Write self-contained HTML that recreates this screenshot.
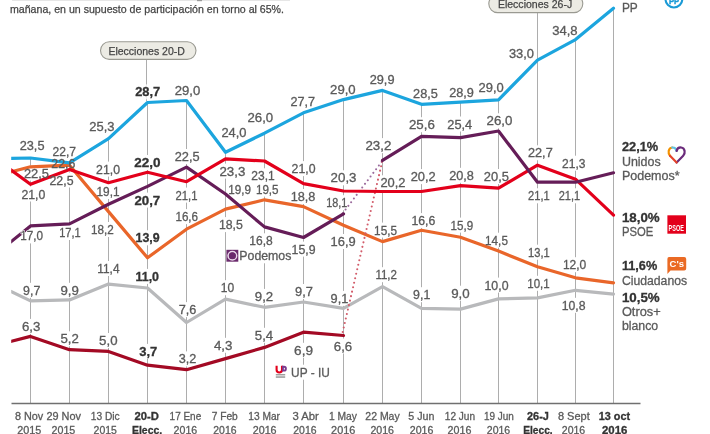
<!DOCTYPE html><html><head><meta charset="utf-8"><style>html,body{margin:0;padding:0;background:#fff;width:710px;height:434px;overflow:hidden}svg{display:block;will-change:transform}text{font-family:"Liberation Sans",sans-serif}</style></head><body>
<svg width="710" height="434" viewBox="0 0 710 434">
<rect width="710" height="434" fill="#fff"/>
<g>
<rect x="12" y="0" width="278" height="1" fill="#e6e6e6"/><rect x="197" y="0" width="5" height="1.2" fill="#9a9a9a"/>
<text x="10" y="12.7" font-size="11" fill="#444" stroke="#444" stroke-width="0.25" textLength="274" lengthAdjust="spacingAndGlyphs">mañana, en un supuesto de participación en torno al 65%.</text>
<line x1="30.5" y1="157" x2="30.5" y2="403" stroke="#adadad" stroke-width="1"/>
<line x1="69.5" y1="162" x2="69.5" y2="403" stroke="#adadad" stroke-width="1"/>
<line x1="108.5" y1="138" x2="108.5" y2="403" stroke="#adadad" stroke-width="1"/>
<line x1="146.5" y1="59.5" x2="146.5" y2="101" stroke="#adadad" stroke-width="1"/>
<line x1="147.5" y1="101" x2="147.5" y2="403" stroke="#adadad" stroke-width="1"/>
<line x1="186.5" y1="99.5" x2="186.5" y2="403" stroke="#adadad" stroke-width="1"/>
<line x1="225.5" y1="150.5" x2="225.5" y2="403" stroke="#adadad" stroke-width="1"/>
<line x1="264.5" y1="132" x2="264.5" y2="403" stroke="#adadad" stroke-width="1"/>
<line x1="303.5" y1="112" x2="303.5" y2="403" stroke="#adadad" stroke-width="1"/>
<line x1="343.5" y1="98.6" x2="343.5" y2="403" stroke="#adadad" stroke-width="1"/>
<line x1="382.5" y1="89.4" x2="382.5" y2="403" stroke="#adadad" stroke-width="1"/>
<line x1="421.5" y1="103" x2="421.5" y2="403" stroke="#adadad" stroke-width="1"/>
<line x1="460.5" y1="101" x2="460.5" y2="403" stroke="#adadad" stroke-width="1"/>
<line x1="498.5" y1="98.8" x2="498.5" y2="403" stroke="#adadad" stroke-width="1"/>
<line x1="537.5" y1="12.7" x2="537.5" y2="403" stroke="#adadad" stroke-width="1"/>
<line x1="575.5" y1="38.6" x2="575.5" y2="403" stroke="#adadad" stroke-width="1"/>
<line x1="613.5" y1="8" x2="613.5" y2="403" stroke="#adadad" stroke-width="1"/>
<line x1="11.5" y1="403.6" x2="640.5" y2="403.6" stroke="#707070" stroke-width="1.5"/>
<rect x="100.5" y="41.8" width="95.5" height="17.6" rx="8.8" fill="#ecebe4" stroke="#9a9a92" stroke-width="1.1"/>
<text x="108.4" y="54.9" font-size="11.5" fill="#444" stroke="#444" stroke-width="0.25" textLength="76.5" lengthAdjust="spacingAndGlyphs">Elecciones 20-D</text>
<rect x="488.8" y="-5" width="94" height="17.6" rx="8.8" fill="#ecebe4" stroke="#9a9a92" stroke-width="1.1"/>
<text x="497.9" y="7.6" font-size="11.5" fill="#444" stroke="#444" stroke-width="0.25" textLength="74.3" lengthAdjust="spacingAndGlyphs">Elecciones 26-J</text>
<rect x="29.2" y="138" width="2.6" height="15" fill="#fff"/>
<rect x="68.2" y="144" width="2.6" height="15" fill="#fff"/>
<rect x="68.2" y="156.4" width="2.6" height="15" fill="#fff"/>
<rect x="29.2" y="165.6" width="2.6" height="15" fill="#fff"/>
<rect x="68.2" y="172.5" width="2.6" height="15" fill="#fff"/>
<rect x="29.2" y="186.5" width="2.6" height="15" fill="#fff"/>
<rect x="29.2" y="228.4" width="2.6" height="15" fill="#fff"/>
<rect x="68.2" y="225" width="2.6" height="15" fill="#fff"/>
<rect x="107.2" y="119" width="2.6" height="15" fill="#fff"/>
<rect x="107.2" y="161.6" width="2.6" height="15" fill="#fff"/>
<rect x="107.2" y="184" width="2.6" height="15" fill="#fff"/>
<rect x="107.2" y="222" width="2.6" height="15" fill="#fff"/>
<rect x="107.2" y="261" width="2.6" height="15" fill="#fff"/>
<rect x="29.2" y="282.8" width="2.6" height="15" fill="#fff"/>
<rect x="68.2" y="282.8" width="2.6" height="15" fill="#fff"/>
<rect x="29.2" y="318.9" width="2.6" height="15" fill="#fff"/>
<rect x="68.2" y="331.3" width="2.6" height="15" fill="#fff"/>
<rect x="107.2" y="333" width="2.6" height="15" fill="#fff"/>
<rect x="146.2" y="84.4" width="2.6" height="15" fill="#fff"/>
<rect x="185.2" y="82.9" width="2.6" height="15" fill="#fff"/>
<rect x="146.2" y="155" width="2.6" height="15" fill="#fff"/>
<rect x="185.2" y="149" width="2.6" height="15" fill="#fff"/>
<rect x="185.2" y="187.6" width="2.6" height="15" fill="#fff"/>
<rect x="146.2" y="192.6" width="2.6" height="15" fill="#fff"/>
<rect x="146.2" y="230.3" width="2.6" height="15" fill="#fff"/>
<rect x="185.2" y="209.1" width="2.6" height="15" fill="#fff"/>
<rect x="146.2" y="268.9" width="2.6" height="15" fill="#fff"/>
<rect x="185.2" y="302.1" width="2.6" height="15" fill="#fff"/>
<rect x="146.2" y="343.9" width="2.6" height="15" fill="#fff"/>
<rect x="185.2" y="351.4" width="2.6" height="15" fill="#fff"/>
<rect x="224.2" y="125.2" width="2.6" height="15" fill="#fff"/>
<rect x="263.2" y="110.2" width="2.6" height="15" fill="#fff"/>
<rect x="302.2" y="93.6" width="2.6" height="15" fill="#fff"/>
<rect x="224.2" y="163.6" width="2.6" height="15" fill="#fff"/>
<rect x="263.2" y="168.3" width="2.6" height="15" fill="#fff"/>
<rect x="302.2" y="161.1" width="2.6" height="15" fill="#fff"/>
<rect x="263.2" y="181.6" width="2.6" height="15" fill="#fff"/>
<rect x="302.2" y="189" width="2.6" height="15" fill="#fff"/>
<rect x="224.2" y="217.1" width="2.6" height="15" fill="#fff"/>
<rect x="263.2" y="233.3" width="2.6" height="15" fill="#fff"/>
<rect x="302.2" y="241.6" width="2.6" height="15" fill="#fff"/>
<rect x="224.2" y="280.2" width="2.6" height="15" fill="#fff"/>
<rect x="263.2" y="288.9" width="2.6" height="15" fill="#fff"/>
<rect x="302.2" y="284" width="2.6" height="15" fill="#fff"/>
<rect x="224.2" y="337.8" width="2.6" height="15" fill="#fff"/>
<rect x="263.2" y="327.8" width="2.6" height="15" fill="#fff"/>
<rect x="302.2" y="342.8" width="2.6" height="15" fill="#fff"/>
<rect x="342.2" y="81.6" width="2.6" height="15" fill="#fff"/>
<rect x="381.2" y="72.4" width="2.6" height="15" fill="#fff"/>
<rect x="381.2" y="138.1" width="2.6" height="15" fill="#fff"/>
<rect x="342.2" y="170.3" width="2.6" height="15" fill="#fff"/>
<rect x="381.2" y="175.3" width="2.6" height="15" fill="#fff"/>
<rect x="342.2" y="195.2" width="2.6" height="15" fill="#fff"/>
<rect x="342.2" y="234" width="2.6" height="15" fill="#fff"/>
<rect x="381.2" y="222.6" width="2.6" height="15" fill="#fff"/>
<rect x="342.2" y="290.9" width="2.6" height="15" fill="#fff"/>
<rect x="381.2" y="267.2" width="2.6" height="15" fill="#fff"/>
<rect x="342.2" y="338.5" width="2.6" height="15" fill="#fff"/>
<rect x="420.2" y="85.6" width="2.6" height="15" fill="#fff"/>
<rect x="459.2" y="84.8" width="2.6" height="15" fill="#fff"/>
<rect x="497.2" y="79.8" width="2.6" height="15" fill="#fff"/>
<rect x="420.2" y="117.2" width="2.6" height="15" fill="#fff"/>
<rect x="459.2" y="116.5" width="2.6" height="15" fill="#fff"/>
<rect x="497.2" y="113.3" width="2.6" height="15" fill="#fff"/>
<rect x="420.2" y="169.1" width="2.6" height="15" fill="#fff"/>
<rect x="459.2" y="167.8" width="2.6" height="15" fill="#fff"/>
<rect x="497.2" y="169" width="2.6" height="15" fill="#fff"/>
<rect x="420.2" y="213.1" width="2.6" height="15" fill="#fff"/>
<rect x="459.2" y="217.6" width="2.6" height="15" fill="#fff"/>
<rect x="497.2" y="232.7" width="2.6" height="15" fill="#fff"/>
<rect x="420.2" y="287.2" width="2.6" height="15" fill="#fff"/>
<rect x="459.2" y="285.7" width="2.6" height="15" fill="#fff"/>
<rect x="497.2" y="277.6" width="2.6" height="15" fill="#fff"/>
<rect x="574.2" y="23.3" width="2.6" height="15" fill="#fff"/>
<rect x="536.2" y="145.3" width="2.6" height="15" fill="#fff"/>
<rect x="574.2" y="155.7" width="2.6" height="15" fill="#fff"/>
<rect x="536.2" y="188.3" width="2.6" height="15" fill="#fff"/>
<rect x="574.2" y="188.3" width="2.6" height="15" fill="#fff"/>
<rect x="536.2" y="244.7" width="2.6" height="15" fill="#fff"/>
<rect x="574.2" y="257.2" width="2.6" height="15" fill="#fff"/>
<rect x="536.2" y="275.8" width="2.6" height="15" fill="#fff"/>
<rect x="574.2" y="297.8" width="2.6" height="15" fill="#fff"/>
<rect x="263.2" y="248.3" width="2.6" height="15" fill="#fff"/>
<rect x="302.2" y="364.7" width="2.6" height="15" fill="#fff"/>
<defs><clipPath id="cl"><rect x="11.2" y="0" width="700" height="434"/></clipPath></defs>
<g clip-path="url(#cl)">
<polyline points="8,290.01 11.5,291.7 30.5,300.9 69.5,299.9 108.5,284.1 147.5,288 186.5,322.5 225.5,299.1 264.5,307.3 303.5,302 343.5,308.3 382.5,286.7 421.5,308.3 460.5,309.1 498.5,298.9 537.5,297.9 575.5,290.3 613.5,294.2" fill="none" stroke="#b8b9bb" stroke-width="3.2" stroke-linejoin="round" stroke-linecap="round" />
<polyline points="8,342.08 11.5,341.2 30.5,336.4 69.5,349.7 108.5,351.4 147.5,365.2 186.5,369.7 225.5,358.6 264.5,347.4 303.5,332.2 343.5,335.5" fill="none" stroke="#a30a24" stroke-width="3.2" stroke-linejoin="round" stroke-linecap="round" />
<polyline points="8,172.72 11.5,171.8 30.5,166.8 69.5,165.2 108.5,211.6 147.5,257.8 186.5,229.2 225.5,209.1 264.5,199.8 303.5,206.6 343.5,225.2 382.5,241.6 421.5,230.3 460.5,237.3 498.5,251.1 537.5,266.8 575.5,277.8 613.5,282.9" fill="none" stroke="#e9662a" stroke-width="3.2" stroke-linejoin="round" stroke-linecap="round" />
<line x1="342.8" y1="213.2" x2="382.3" y2="161" stroke="#9b6b9d" stroke-width="2.1" stroke-linecap="round" stroke-dasharray="0 4.6"/>
<line x1="342.7" y1="332" x2="382.3" y2="161" stroke="#d25c6a" stroke-width="2.1" stroke-linecap="round" stroke-dasharray="0 4.6"/>
<polyline points="8,158.47 11.5,158.4 30.5,158 69.5,162.9 108.5,138.7 147.5,102.5 186.5,100.5 225.5,152.3 264.5,133.2 303.5,112.8 343.5,99.6 382.5,90.4 421.5,104.3 460.5,102.1 498.5,99.8 537.5,60.2 575.5,39.6 613.5,8.2" fill="none" stroke="#1ca5de" stroke-width="3.2" stroke-linejoin="round" stroke-linecap="round" />
<polyline points="8,244.14 11.5,241.3 30.5,225.9 69.5,223.9 108.5,204.3 147.5,186.4 186.5,167.1 225.5,194 264.5,226.9 303.5,237.5 343.5,213.9" fill="none" stroke="#651d58" stroke-width="3.2" stroke-linejoin="round" stroke-linecap="round" />
<polyline points="8,167.84 11.5,170.4 30.5,184.3 69.5,169.4 108.5,182.7 147.5,172.2 186.5,181.7 225.5,158.9 264.5,161 303.5,183.6 343.5,191 382.5,191.5 421.5,191.5 460.5,185.6 498.5,188.2 537.5,165.2 575.5,179.2 613.5,215.1" fill="none" stroke="#e3001b" stroke-width="3.2" stroke-linejoin="round" stroke-linecap="round" />
<polyline points="382.5,160.4 421.5,136.4 460.5,137.7 498.5,131 537.5,182.2 575.5,182.2 613.5,172.8" fill="none" stroke="#651d58" stroke-width="3.2" stroke-linejoin="round" stroke-linecap="round" />
</g>
<text x="19.7" y="150" font-size="12" textLength="24.8" lengthAdjust="spacingAndGlyphs" fill="#5a5a5a" stroke="#5a5a5a" stroke-width="0.3">23,5</text>
<text x="52.5" y="156" font-size="12" textLength="23.5" lengthAdjust="spacingAndGlyphs" fill="#5a5a5a" stroke="#5a5a5a" stroke-width="0.3">22,7</text>
<text x="51.3" y="168.4" font-size="12" textLength="24.1" lengthAdjust="spacingAndGlyphs" fill="#5a5a5a" stroke="#5a5a5a" stroke-width="0.3">22,6</text>
<text x="23.9" y="177.6" font-size="12" textLength="25.1" lengthAdjust="spacingAndGlyphs" fill="#5a5a5a" stroke="#5a5a5a" stroke-width="0.3">22,5</text>
<text x="49.5" y="184.5" font-size="12" textLength="24" lengthAdjust="spacingAndGlyphs" fill="#5a5a5a" stroke="#5a5a5a" stroke-width="0.3">22,5</text>
<text x="21.4" y="198.5" font-size="12" textLength="23.9" lengthAdjust="spacingAndGlyphs" fill="#5a5a5a" stroke="#5a5a5a" stroke-width="0.3">21,0</text>
<text x="20.2" y="240.4" font-size="12" textLength="22.8" lengthAdjust="spacingAndGlyphs" fill="#fff" stroke="#fff" stroke-width="1.6" stroke-linejoin="round">17,0</text><text x="20.2" y="240.4" font-size="12" textLength="22.8" lengthAdjust="spacingAndGlyphs" fill="#5a5a5a" stroke="#5a5a5a" stroke-width="0.3">17,0</text>
<text x="59.2" y="237" font-size="12" textLength="21.5" lengthAdjust="spacingAndGlyphs" fill="#5a5a5a" stroke="#5a5a5a" stroke-width="0.3">17,1</text>
<text x="89.3" y="131" font-size="12" textLength="25.2" lengthAdjust="spacingAndGlyphs" fill="#5a5a5a" stroke="#5a5a5a" stroke-width="0.3">25,3</text>
<text x="96.1" y="173.6" font-size="12" textLength="23.9" lengthAdjust="spacingAndGlyphs" fill="#5a5a5a" stroke="#5a5a5a" stroke-width="0.3">21,0</text>
<text x="96.5" y="196" font-size="12" textLength="23" lengthAdjust="spacingAndGlyphs" fill="#5a5a5a" stroke="#5a5a5a" stroke-width="0.3">19,1</text>
<text x="91.1" y="234" font-size="12" textLength="22.7" lengthAdjust="spacingAndGlyphs" fill="#5a5a5a" stroke="#5a5a5a" stroke-width="0.3">18,2</text>
<text x="97.3" y="273" font-size="12" textLength="22.2" lengthAdjust="spacingAndGlyphs" fill="#5a5a5a" stroke="#5a5a5a" stroke-width="0.3">11,4</text>
<text x="23.1" y="294.8" font-size="12" textLength="17.2" lengthAdjust="spacingAndGlyphs" fill="#5a5a5a" stroke="#5a5a5a" stroke-width="0.3">9,7</text>
<text x="60.5" y="294.8" font-size="12" textLength="18.4" lengthAdjust="spacingAndGlyphs" fill="#5a5a5a" stroke="#5a5a5a" stroke-width="0.3">9,9</text>
<text x="21.9" y="330.9" font-size="12" textLength="18.4" lengthAdjust="spacingAndGlyphs" fill="#5a5a5a" stroke="#5a5a5a" stroke-width="0.3">6,3</text>
<text x="60.5" y="343.3" font-size="12" textLength="18.4" lengthAdjust="spacingAndGlyphs" fill="#5a5a5a" stroke="#5a5a5a" stroke-width="0.3">5,2</text>
<text x="99.1" y="345" font-size="12" textLength="18.4" lengthAdjust="spacingAndGlyphs" fill="#5a5a5a" stroke="#5a5a5a" stroke-width="0.3">5,0</text>
<text x="135.2" y="96.4" font-size="12" font-weight="bold" textLength="25" lengthAdjust="spacingAndGlyphs" fill="#333" stroke="#333" stroke-width="0.3">28,7</text>
<text x="174.7" y="94.9" font-size="12" textLength="25.5" lengthAdjust="spacingAndGlyphs" fill="#5a5a5a" stroke="#5a5a5a" stroke-width="0.3">29,0</text>
<text x="134.3" y="167" font-size="12" font-weight="bold" textLength="26.2" lengthAdjust="spacingAndGlyphs" fill="#333" stroke="#333" stroke-width="0.3">22,0</text>
<text x="174.7" y="161" font-size="12" textLength="24.9" lengthAdjust="spacingAndGlyphs" fill="#5a5a5a" stroke="#5a5a5a" stroke-width="0.3">22,5</text>
<text x="175.5" y="199.6" font-size="12" textLength="22" lengthAdjust="spacingAndGlyphs" fill="#5a5a5a" stroke="#5a5a5a" stroke-width="0.3">21,1</text>
<text x="134.4" y="204.6" font-size="12" font-weight="bold" textLength="25.8" lengthAdjust="spacingAndGlyphs" fill="#333" stroke="#333" stroke-width="0.3">20,7</text>
<text x="135.6" y="242.3" font-size="12" font-weight="bold" textLength="24.1" lengthAdjust="spacingAndGlyphs" fill="#333" stroke="#333" stroke-width="0.3">13,9</text>
<text x="175.4" y="221.1" font-size="12" textLength="22.7" lengthAdjust="spacingAndGlyphs" fill="#5a5a5a" stroke="#5a5a5a" stroke-width="0.3">16,6</text>
<text x="135.5" y="280.9" font-size="12" font-weight="bold" textLength="23.5" lengthAdjust="spacingAndGlyphs" fill="#333" stroke="#333" stroke-width="0.3">11,0</text>
<text x="178.7" y="314.1" font-size="12" textLength="17.6" lengthAdjust="spacingAndGlyphs" fill="#5a5a5a" stroke="#5a5a5a" stroke-width="0.3">7,6</text>
<text x="139.3" y="355.9" font-size="12" font-weight="bold" textLength="18" lengthAdjust="spacingAndGlyphs" fill="#333" stroke="#333" stroke-width="0.3">3,7</text>
<text x="178.7" y="363.4" font-size="12" textLength="17.6" lengthAdjust="spacingAndGlyphs" fill="#5a5a5a" stroke="#5a5a5a" stroke-width="0.3">3,2</text>
<text x="221.4" y="137.2" font-size="12" textLength="25.1" lengthAdjust="spacingAndGlyphs" fill="#5a5a5a" stroke="#5a5a5a" stroke-width="0.3">24,0</text>
<text x="247.5" y="122.2" font-size="12" textLength="25.7" lengthAdjust="spacingAndGlyphs" fill="#5a5a5a" stroke="#5a5a5a" stroke-width="0.3">26,0</text>
<text x="290.4" y="105.6" font-size="12" textLength="24.6" lengthAdjust="spacingAndGlyphs" fill="#5a5a5a" stroke="#5a5a5a" stroke-width="0.3">27,7</text>
<text x="219.4" y="175.6" font-size="12" textLength="25.9" lengthAdjust="spacingAndGlyphs" fill="#5a5a5a" stroke="#5a5a5a" stroke-width="0.3">23,3</text>
<text x="251.3" y="180.3" font-size="12" textLength="23.4" lengthAdjust="spacingAndGlyphs" fill="#5a5a5a" stroke="#5a5a5a" stroke-width="0.3">23,1</text>
<text x="291.6" y="173.1" font-size="12" textLength="23.9" lengthAdjust="spacingAndGlyphs" fill="#5a5a5a" stroke="#5a5a5a" stroke-width="0.3">21,0</text>
<text x="228.3" y="193.5" font-size="12" textLength="22.7" lengthAdjust="spacingAndGlyphs" fill="#5a5a5a" stroke="#5a5a5a" stroke-width="0.3">19,9</text>
<text x="255.9" y="193.6" font-size="12" textLength="22.7" lengthAdjust="spacingAndGlyphs" fill="#5a5a5a" stroke="#5a5a5a" stroke-width="0.3">19,5</text>
<text x="290.7" y="201" font-size="12" textLength="24.7" lengthAdjust="spacingAndGlyphs" fill="#5a5a5a" stroke="#5a5a5a" stroke-width="0.3">18,8</text>
<text x="218.9" y="229.1" font-size="12" textLength="23.9" lengthAdjust="spacingAndGlyphs" fill="#5a5a5a" stroke="#5a5a5a" stroke-width="0.3">18,5</text>
<text x="249.3" y="245.3" font-size="12" textLength="23.4" lengthAdjust="spacingAndGlyphs" fill="#5a5a5a" stroke="#5a5a5a" stroke-width="0.3">16,8</text>
<text x="291.6" y="253.6" font-size="12" textLength="23.9" lengthAdjust="spacingAndGlyphs" fill="#5a5a5a" stroke="#5a5a5a" stroke-width="0.3">15,9</text>
<text x="220.7" y="292.2" font-size="12" textLength="13.4" lengthAdjust="spacingAndGlyphs" fill="#5a5a5a" stroke="#5a5a5a" stroke-width="0.3">10</text>
<text x="254.8" y="300.9" font-size="12" textLength="18.4" lengthAdjust="spacingAndGlyphs" fill="#5a5a5a" stroke="#5a5a5a" stroke-width="0.3">9,2</text>
<text x="295" y="296" font-size="12" textLength="17.9" lengthAdjust="spacingAndGlyphs" fill="#5a5a5a" stroke="#5a5a5a" stroke-width="0.3">9,7</text>
<text x="213.9" y="349.8" font-size="12" textLength="18.5" lengthAdjust="spacingAndGlyphs" fill="#5a5a5a" stroke="#5a5a5a" stroke-width="0.3">4,3</text>
<text x="254.8" y="339.8" font-size="12" textLength="18.4" lengthAdjust="spacingAndGlyphs" fill="#5a5a5a" stroke="#5a5a5a" stroke-width="0.3">5,4</text>
<text x="294.1" y="354.8" font-size="12" textLength="18.9" lengthAdjust="spacingAndGlyphs" fill="#5a5a5a" stroke="#5a5a5a" stroke-width="0.3">6,9</text>
<text x="330.1" y="93.6" font-size="12" textLength="25.6" lengthAdjust="spacingAndGlyphs" fill="#5a5a5a" stroke="#5a5a5a" stroke-width="0.3">29,0</text>
<text x="369.7" y="84.4" font-size="12" textLength="24.8" lengthAdjust="spacingAndGlyphs" fill="#5a5a5a" stroke="#5a5a5a" stroke-width="0.3">29,9</text>
<text x="365.4" y="150.1" font-size="12" textLength="25.9" lengthAdjust="spacingAndGlyphs" fill="#5a5a5a" stroke="#5a5a5a" stroke-width="0.3">23,2</text>
<text x="330.6" y="182.3" font-size="12" textLength="25.9" lengthAdjust="spacingAndGlyphs" fill="#5a5a5a" stroke="#5a5a5a" stroke-width="0.3">20,3</text>
<text x="380.4" y="187.3" font-size="12" textLength="25.1" lengthAdjust="spacingAndGlyphs" fill="#5a5a5a" stroke="#5a5a5a" stroke-width="0.3">20,2</text>
<text x="326.3" y="207.2" font-size="12" textLength="21" lengthAdjust="spacingAndGlyphs" fill="#5a5a5a" stroke="#5a5a5a" stroke-width="0.3">18,1</text>
<text x="330.6" y="246" font-size="12" textLength="25.1" lengthAdjust="spacingAndGlyphs" fill="#5a5a5a" stroke="#5a5a5a" stroke-width="0.3">16,9</text>
<text x="374.1" y="234.6" font-size="12" textLength="22.9" lengthAdjust="spacingAndGlyphs" fill="#5a5a5a" stroke="#5a5a5a" stroke-width="0.3">15,5</text>
<text x="330.6" y="302.9" font-size="12" textLength="17.7" lengthAdjust="spacingAndGlyphs" fill="#5a5a5a" stroke="#5a5a5a" stroke-width="0.3">9,1</text>
<text x="375.4" y="279.2" font-size="12" textLength="21.6" lengthAdjust="spacingAndGlyphs" fill="#5a5a5a" stroke="#5a5a5a" stroke-width="0.3">11,2</text>
<text x="333.8" y="350.5" font-size="12" textLength="18.4" lengthAdjust="spacingAndGlyphs" fill="#5a5a5a" stroke="#5a5a5a" stroke-width="0.3">6,6</text>
<text x="413.1" y="97.6" font-size="12" textLength="24.7" lengthAdjust="spacingAndGlyphs" fill="#5a5a5a" stroke="#5a5a5a" stroke-width="0.3">28,5</text>
<text x="449.2" y="96.8" font-size="12" textLength="24.7" lengthAdjust="spacingAndGlyphs" fill="#5a5a5a" stroke="#5a5a5a" stroke-width="0.3">28,9</text>
<text x="478.6" y="91.8" font-size="12" textLength="25.2" lengthAdjust="spacingAndGlyphs" fill="#5a5a5a" stroke="#5a5a5a" stroke-width="0.3">29,0</text>
<text x="408.9" y="129.2" font-size="12" textLength="25.9" lengthAdjust="spacingAndGlyphs" fill="#5a5a5a" stroke="#5a5a5a" stroke-width="0.3">25,6</text>
<text x="447.3" y="128.5" font-size="12" textLength="24.9" lengthAdjust="spacingAndGlyphs" fill="#5a5a5a" stroke="#5a5a5a" stroke-width="0.3">25,4</text>
<text x="486.5" y="125.3" font-size="12" textLength="25.9" lengthAdjust="spacingAndGlyphs" fill="#5a5a5a" stroke="#5a5a5a" stroke-width="0.3">26,0</text>
<text x="410.7" y="181.1" font-size="12" textLength="25.1" lengthAdjust="spacingAndGlyphs" fill="#5a5a5a" stroke="#5a5a5a" stroke-width="0.3">20,2</text>
<text x="449.2" y="179.8" font-size="12" textLength="24.7" lengthAdjust="spacingAndGlyphs" fill="#5a5a5a" stroke="#5a5a5a" stroke-width="0.3">20,8</text>
<text x="483.8" y="181" font-size="12" textLength="25.1" lengthAdjust="spacingAndGlyphs" fill="#5a5a5a" stroke="#5a5a5a" stroke-width="0.3">20,5</text>
<text x="411.4" y="225.1" font-size="12" textLength="23.9" lengthAdjust="spacingAndGlyphs" fill="#5a5a5a" stroke="#5a5a5a" stroke-width="0.3">16,6</text>
<text x="450.5" y="229.6" font-size="12" textLength="22.6" lengthAdjust="spacingAndGlyphs" fill="#5a5a5a" stroke="#5a5a5a" stroke-width="0.3">15,9</text>
<text x="485.1" y="244.7" font-size="12" textLength="22.8" lengthAdjust="spacingAndGlyphs" fill="#5a5a5a" stroke="#5a5a5a" stroke-width="0.3">14,5</text>
<text x="413.1" y="299.2" font-size="12" textLength="17.2" lengthAdjust="spacingAndGlyphs" fill="#5a5a5a" stroke="#5a5a5a" stroke-width="0.3">9,1</text>
<text x="451.2" y="297.7" font-size="12" textLength="18.5" lengthAdjust="spacingAndGlyphs" fill="#5a5a5a" stroke="#5a5a5a" stroke-width="0.3">9,0</text>
<text x="484.5" y="289.6" font-size="12" textLength="24" lengthAdjust="spacingAndGlyphs" fill="#5a5a5a" stroke="#5a5a5a" stroke-width="0.3">10,0</text>
<text x="508.9" y="57.8" font-size="12" textLength="25.1" lengthAdjust="spacingAndGlyphs" fill="#5a5a5a" stroke="#5a5a5a" stroke-width="0.3">33,0</text>
<text x="552.2" y="35.3" font-size="12" textLength="25.4" lengthAdjust="spacingAndGlyphs" fill="#5a5a5a" stroke="#5a5a5a" stroke-width="0.3">34,8</text>
<text x="528" y="157.3" font-size="12" textLength="24.7" lengthAdjust="spacingAndGlyphs" fill="#5a5a5a" stroke="#5a5a5a" stroke-width="0.3">22,7</text>
<text x="562.1" y="167.7" font-size="12" textLength="23.4" lengthAdjust="spacingAndGlyphs" fill="#5a5a5a" stroke="#5a5a5a" stroke-width="0.3">21,3</text>
<text x="528" y="200.3" font-size="12" textLength="21.7" lengthAdjust="spacingAndGlyphs" fill="#5a5a5a" stroke="#5a5a5a" stroke-width="0.3">21,1</text>
<text x="558.7" y="200.3" font-size="12" textLength="21.4" lengthAdjust="spacingAndGlyphs" fill="#5a5a5a" stroke="#5a5a5a" stroke-width="0.3">21,1</text>
<text x="528" y="256.7" font-size="12" textLength="21.7" lengthAdjust="spacingAndGlyphs" fill="#5a5a5a" stroke="#5a5a5a" stroke-width="0.3">13,1</text>
<text x="562.9" y="269.2" font-size="12" textLength="23.4" lengthAdjust="spacingAndGlyphs" fill="#5a5a5a" stroke="#5a5a5a" stroke-width="0.3">12,0</text>
<text x="527.3" y="287.8" font-size="12" textLength="22.4" lengthAdjust="spacingAndGlyphs" fill="#5a5a5a" stroke="#5a5a5a" stroke-width="0.3">10,1</text>
<text x="561.7" y="309.8" font-size="12" textLength="23.8" lengthAdjust="spacingAndGlyphs" fill="#5a5a5a" stroke="#5a5a5a" stroke-width="0.3">10,8</text>
<text x="621.9" y="12" font-size="12.5" textLength="15.9" lengthAdjust="spacingAndGlyphs" fill="#5a5a5a" stroke="#5a5a5a" stroke-width="0.3">PP</text>
<text x="621.9" y="151.2" font-size="12.5" font-weight="bold" textLength="36.3" lengthAdjust="spacingAndGlyphs" fill="#333" stroke="#333" stroke-width="0.3">22,1%</text>
<text x="621.9" y="166.1" font-size="12.5" textLength="38.8" lengthAdjust="spacingAndGlyphs" fill="#5a5a5a" stroke="#5a5a5a" stroke-width="0.3">Unidos</text>
<text x="621.9" y="179.8" font-size="12.5" textLength="57.7" lengthAdjust="spacingAndGlyphs" fill="#5a5a5a" stroke="#5a5a5a" stroke-width="0.3">Podemos*</text>
<text x="621.9" y="222.1" font-size="12.5" font-weight="bold" textLength="37.8" lengthAdjust="spacingAndGlyphs" fill="#333" stroke="#333" stroke-width="0.3">18,0%</text>
<text x="621.9" y="235.8" font-size="12.5" textLength="31.3" lengthAdjust="spacingAndGlyphs" fill="#5a5a5a" stroke="#5a5a5a" stroke-width="0.3">PSOE</text>
<text x="621.9" y="270.3" font-size="12.5" font-weight="bold" textLength="35.3" lengthAdjust="spacingAndGlyphs" fill="#333" stroke="#333" stroke-width="0.3">11,6%</text>
<text x="621.9" y="284.8" font-size="12.5" textLength="65.2" lengthAdjust="spacingAndGlyphs" fill="#5a5a5a" stroke="#5a5a5a" stroke-width="0.3">Ciudadanos</text>
<text x="621.9" y="302.2" font-size="12.5" font-weight="bold" textLength="37.8" lengthAdjust="spacingAndGlyphs" fill="#333" stroke="#333" stroke-width="0.3">10,5%</text>
<text x="621.9" y="315.9" font-size="12.5" textLength="38.8" lengthAdjust="spacingAndGlyphs" fill="#5a5a5a" stroke="#5a5a5a" stroke-width="0.3">Otros+</text>
<text x="621.9" y="330.1" font-size="12.5" textLength="36.3" lengthAdjust="spacingAndGlyphs" fill="#5a5a5a" stroke="#5a5a5a" stroke-width="0.3">blanco</text>
<text x="239.3" y="260.3" font-size="12.5" textLength="52.1" lengthAdjust="spacingAndGlyphs" fill="#5a5a5a" stroke="#5a5a5a" stroke-width="0.3">Podemos</text>
<text x="291.1" y="376.7" font-size="12.5" textLength="38.7" lengthAdjust="spacingAndGlyphs" fill="#5a5a5a" stroke="#5a5a5a" stroke-width="0.3">UP - IU</text>
<text x="15" y="420" font-size="11" textLength="28.3" lengthAdjust="spacingAndGlyphs" fill="#5a5a5a" stroke="#5a5a5a" stroke-width="0.3">8 Nov</text>
<text x="17.2" y="434" font-size="11" textLength="24.1" lengthAdjust="spacingAndGlyphs" fill="#5a5a5a" stroke="#5a5a5a" stroke-width="0.3">2015</text>
<text x="46.4" y="420" font-size="11" textLength="34.6" lengthAdjust="spacingAndGlyphs" fill="#5a5a5a" stroke="#5a5a5a" stroke-width="0.3">29 Nov</text>
<text x="51.5" y="434" font-size="11" textLength="23.8" lengthAdjust="spacingAndGlyphs" fill="#5a5a5a" stroke="#5a5a5a" stroke-width="0.3">2015</text>
<text x="90.8" y="420" font-size="11" textLength="28.9" lengthAdjust="spacingAndGlyphs" fill="#5a5a5a" stroke="#5a5a5a" stroke-width="0.3">13 Dic</text>
<text x="93.6" y="434" font-size="11" textLength="23.3" lengthAdjust="spacingAndGlyphs" fill="#5a5a5a" stroke="#5a5a5a" stroke-width="0.3">2015</text>
<text x="134.6" y="420" font-size="11" font-weight="bold" textLength="24.4" lengthAdjust="spacingAndGlyphs" fill="#333" stroke="#333" stroke-width="0.3">20-D</text>
<text x="132" y="434" font-size="11" font-weight="bold" textLength="30.2" lengthAdjust="spacingAndGlyphs" fill="#333" stroke="#333" stroke-width="0.3">Elecc.</text>
<text x="169.6" y="420" font-size="11" textLength="31.6" lengthAdjust="spacingAndGlyphs" fill="#5a5a5a" stroke="#5a5a5a" stroke-width="0.3">17 Ene</text>
<text x="173.6" y="434" font-size="11" textLength="23.6" lengthAdjust="spacingAndGlyphs" fill="#5a5a5a" stroke="#5a5a5a" stroke-width="0.3">2016</text>
<text x="211.7" y="420" font-size="11" textLength="26.1" lengthAdjust="spacingAndGlyphs" fill="#5a5a5a" stroke="#5a5a5a" stroke-width="0.3">7 Feb</text>
<text x="213.3" y="434" font-size="11" textLength="23.2" lengthAdjust="spacingAndGlyphs" fill="#5a5a5a" stroke="#5a5a5a" stroke-width="0.3">2016</text>
<text x="248.3" y="420" font-size="11" textLength="31.7" lengthAdjust="spacingAndGlyphs" fill="#5a5a5a" stroke="#5a5a5a" stroke-width="0.3">13 Mar</text>
<text x="252.7" y="434" font-size="11" textLength="23.9" lengthAdjust="spacingAndGlyphs" fill="#5a5a5a" stroke="#5a5a5a" stroke-width="0.3">2016</text>
<text x="292.4" y="420" font-size="11" textLength="26.4" lengthAdjust="spacingAndGlyphs" fill="#5a5a5a" stroke="#5a5a5a" stroke-width="0.3">3 Abr</text>
<text x="293.3" y="434" font-size="11" textLength="23.2" lengthAdjust="spacingAndGlyphs" fill="#5a5a5a" stroke="#5a5a5a" stroke-width="0.3">2016</text>
<text x="328.9" y="420" font-size="11" textLength="28" lengthAdjust="spacingAndGlyphs" fill="#5a5a5a" stroke="#5a5a5a" stroke-width="0.3">1 May</text>
<text x="331.1" y="434" font-size="11" textLength="24.2" lengthAdjust="spacingAndGlyphs" fill="#5a5a5a" stroke="#5a5a5a" stroke-width="0.3">2016</text>
<text x="365.3" y="420" font-size="11" textLength="34.4" lengthAdjust="spacingAndGlyphs" fill="#5a5a5a" stroke="#5a5a5a" stroke-width="0.3">22 May</text>
<text x="370.4" y="434" font-size="11" textLength="23.6" lengthAdjust="spacingAndGlyphs" fill="#5a5a5a" stroke="#5a5a5a" stroke-width="0.3">2016</text>
<text x="408.3" y="420" font-size="11" textLength="26.1" lengthAdjust="spacingAndGlyphs" fill="#5a5a5a" stroke="#5a5a5a" stroke-width="0.3">5 Jun</text>
<text x="409.8" y="434" font-size="11" textLength="23.6" lengthAdjust="spacingAndGlyphs" fill="#5a5a5a" stroke="#5a5a5a" stroke-width="0.3">2016</text>
<text x="444.8" y="420" font-size="11" textLength="30.2" lengthAdjust="spacingAndGlyphs" fill="#5a5a5a" stroke="#5a5a5a" stroke-width="0.3">12 Jun</text>
<text x="447.6" y="434" font-size="11" textLength="23.8" lengthAdjust="spacingAndGlyphs" fill="#5a5a5a" stroke="#5a5a5a" stroke-width="0.3">2016</text>
<text x="483.9" y="420" font-size="11" textLength="29.9" lengthAdjust="spacingAndGlyphs" fill="#5a5a5a" stroke="#5a5a5a" stroke-width="0.3">19 Jun</text>
<text x="486.8" y="434" font-size="11" textLength="23.4" lengthAdjust="spacingAndGlyphs" fill="#5a5a5a" stroke="#5a5a5a" stroke-width="0.3">2016</text>
<text x="527" y="420" font-size="11" font-weight="bold" textLength="21.9" lengthAdjust="spacingAndGlyphs" fill="#333" stroke="#333" stroke-width="0.3">26-J</text>
<text x="523.2" y="434" font-size="11" font-weight="bold" textLength="29.5" lengthAdjust="spacingAndGlyphs" fill="#333" stroke="#333" stroke-width="0.3">Elecc.</text>
<text x="557.9" y="420" font-size="11" textLength="31.8" lengthAdjust="spacingAndGlyphs" fill="#5a5a5a" stroke="#5a5a5a" stroke-width="0.3">8 Sept</text>
<text x="561.8" y="434" font-size="11" textLength="23.4" lengthAdjust="spacingAndGlyphs" fill="#5a5a5a" stroke="#5a5a5a" stroke-width="0.3">2016</text>
<text x="598.8" y="420" font-size="11" font-weight="bold" textLength="31.2" lengthAdjust="spacingAndGlyphs" fill="#333" stroke="#333" stroke-width="0.3">13 oct</text>
<text x="602" y="434" font-size="11" font-weight="bold" textLength="25.4" lengthAdjust="spacingAndGlyphs" fill="#333" stroke="#333" stroke-width="0.3">2016</text>
<circle cx="673.9" cy="-0.9" r="8.4" fill="#fff" stroke="#1a9ad6" stroke-width="2.1"/>
<text x="668.9" y="4.2" font-size="9.5" font-weight="bold" fill="#1a9ad6" stroke="#1a9ad6" stroke-width="0.5" textLength="10.2" lengthAdjust="spacingAndGlyphs">PP</text>
<g fill="none" stroke-width="2.2" stroke-linecap="round" stroke-linejoin="round"><path d="M670,155.8 C667.8,153.5 668,148 672.2,147.5" stroke="#f39200"/><path d="M672.2,147.5 C674.6,147.3 676.2,149 676.6,151" stroke="#5ec3e4"/><path d="M676.6,151 C677,149 678.7,147.3 681.2,147.5 C685.3,148 685.5,153.5 683.2,155.8 L676.6,162.5" stroke="#6b2b7b"/><path d="M676.6,162.5 L670,155.8" stroke="#e4432a"/></g>
<rect x="667.4" y="215.3" width="18.6" height="18.4" fill="#e3001b"/>
<text x="668.6" y="231.2" font-size="9.6" font-weight="bold" fill="#fff" textLength="15.2" lengthAdjust="spacingAndGlyphs">PSOE</text>
<path d="M669,257 H684.2 Q686.2,257 686.2,259 V268.6 Q686.2,270.6 684.2,270.6 H670.5 L667.4,274 V259 Q667.4,257 669,257 Z" fill="#ea6a24"/>
<text x="669.6" y="267.3" font-size="8.5" font-weight="bold" fill="#fff" textLength="14.4" lengthAdjust="spacingAndGlyphs">C's</text>
<rect x="226.4" y="249.8" width="11.9" height="11.9" fill="#6a2a6c"/>
<circle cx="232.35" cy="255.75" r="4.3" fill="none" stroke="#ead8ea" stroke-width="1.5"/>
<circle cx="232.35" cy="255.75" r="3.3" fill="#6a2a6c"/>
<path d="M276.6,365.8 V369.8 A2.7,2.7 0 0 0 282,369.8 V365.8" fill="none" stroke="#e3001b" stroke-width="2.1"/>
<path d="M282.9,366.8 H284 A1.9,1.9 0 0 1 284,370.6 H282.9 Z" fill="none" stroke="#7a3b8f" stroke-width="1.9"/>
<rect x="275.8" y="374.2" width="9.4" height="0.9" fill="#888"/><rect x="275.8" y="375.7" width="9.4" height="0.9" fill="#888"/><rect x="275.8" y="377" width="9.4" height="0.8" fill="#999"/>
</g>
</svg></body></html>
